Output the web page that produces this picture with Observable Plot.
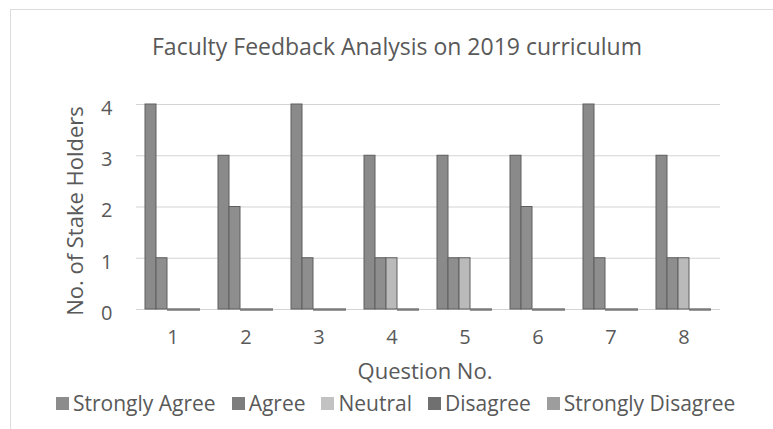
<!DOCTYPE html>
<html>
<head>
<meta charset="utf-8">
<script src="https://cdn.jsdelivr.net/npm/d3@7"></script>
<script src="https://cdn.jsdelivr.net/npm/@observablehq/plot@0.6"></script>
<style>
  html, body { margin: 0; padding: 0; background: #fff; }
  #page { position: relative; width: 773px; height: 429px; overflow: hidden; background: #fff;
          font-family: "Open Sans", sans-serif; color: #595959; }
  #frame { position: absolute; left: 10px; top: 9px; width: 770px; height: 430px;
           border-left: 1.5px solid #dcdcdc; border-top: 1.5px solid #dcdcdc; }
  #title { position: absolute; left: 397px; top: 31px; transform: translateX(-50%);
           font-size: 23px; line-height: 30px; white-space: nowrap; }
  #ylabel { position: absolute; left: 74px; top: 211px; transform: translate(-50%, -50%) rotate(-90deg);
            font-size: 22px; white-space: nowrap; }
  #xlabel { position: absolute; left: 425px; top: 355px; transform: translateX(-50%); font-size: 22px; line-height: 30px; white-space: nowrap; }
  #legend { position: absolute; left: 56px; top: 389px; display: flex; align-items: center;
            font-size: 21px; line-height: 28px; white-space: nowrap; }
  .item { display: flex; align-items: center; margin-right: 16px; }
  .sw { width: 13px; height: 13px; margin-right: 4px; }
  #chart { position: absolute; left: 0; top: 80px; }
</style>
</head>
<body>
<div id="page">
  <div id="frame"></div>
  <div id="title"></div>
  <div id="chart"></div>
  <div id="ylabel"></div>
  <div id="xlabel"></div>
  <div id="legend"></div>
</div>
<script>
const titleText = "Faculty Feedback Analysis on 2019 curriculum";
const yLabel = "No. of Stake Holders";
const xLabel = "Question No.";
const questions = ["1", "2", "3", "4", "5", "6", "7", "8"];
const responses = ["Strongly Agree", "Agree", "Neutral", "Disagree", "Strongly Disagree"];
const stronglyAgree    = [4, 3, 4, 3, 3, 3, 4, 3];
const agree            = [1, 2, 1, 1, 1, 2, 1, 1];
const neutral          = [0, 0, 0, 1, 1, 0, 0, 1];
const disagree         = [0, 0, 0, 0, 0, 0, 0, 0];
const stronglyDisagree = [0, 0, 0, 0, 0, 0, 0, 0];
const yTicks = [0, 1, 2, 3, 4];

const fills   = ["#8a8a8a", "#8e8e8e", "#bababa", "#777777", "#999999"];
const swatches = ["#8c8c8c", "#7d7d7d", "#c2c2c2", "#707070", "#9d9d9d"];

const series = [stronglyAgree, agree, neutral, disagree, stronglyDisagree];
const rows = [];
questions.forEach((q, i) => {
  responses.forEach((r, j) => rows.push({question: q, response: r, value: series[j][i]}));
});

document.getElementById("title").textContent = titleText;
document.getElementById("ylabel").textContent = yLabel;
document.getElementById("xlabel").textContent = xLabel;

const legend = document.getElementById("legend");
responses.forEach((r, j) => {
  const it = document.createElement("div");
  it.className = "item";
  const sw = document.createElement("div");
  sw.className = "sw";
  sw.style.background = swatches[j];
  const t = document.createElement("span");
  t.textContent = r;
  it.appendChild(sw); it.appendChild(t);
  legend.appendChild(it);
});

const chart = Plot.plot({
  width: 773,
  height: 310,
  marginTop: 24,
  marginBottom: 81,
  marginLeft: 134,
  marginRight: 51,
  style: {fontFamily: "Open Sans, sans-serif", fontSize: "20px", color: "#595959", background: "transparent"},
  fx: {domain: questions, padding: 0, label: null, axis: "bottom", tickSize: 0, tickPadding: 20},
  x: {domain: responses, paddingInner: 0, paddingOuter: 0.62, axis: null},
  y: {domain: [0, 4], ticks: yTicks, tickSize: 0, tickPadding: 24, label: null, tickFormat: d3.format("d")},
  color: {domain: responses, range: fills},
  marks: [
    Plot.ruleY(yTicks, {stroke: "#d4d4d4", strokeWidth: 1.2}),
    Plot.barY(rows, {
      fx: "question", x: "response", y: "value",
      fill: "response", stroke: "#5e5e5e", strokeWidth: 1,
      filter: d => d.value > 0
    }),
    Plot.tickY(rows, {
      fx: "question", x: "response", y: "value",
      stroke: "#7a7a7a", strokeWidth: 2.5,
      filter: d => d.value === 0
    })
  ]
});
chart.querySelectorAll("g[aria-label='y-axis tick label']").forEach(t => t.setAttribute("transform", (t.getAttribute("transform") || "") + " translate(0,4)"));
document.getElementById("chart").appendChild(chart);
</script>
</body>
</html>
